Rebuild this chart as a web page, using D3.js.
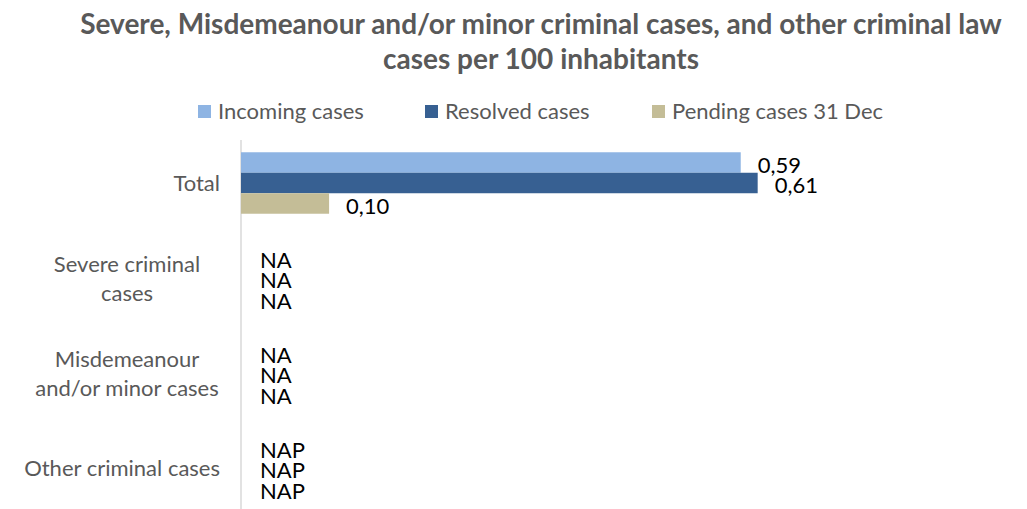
<!DOCTYPE html>
<html><head><meta charset="utf-8">
<script src="https://cdn.jsdelivr.net/npm/d3@7"></script>
<style>body{margin:0;background:#fff}svg{display:block}</style>
</head><body>
<svg id="c" width="1027" height="509"></svg>
<script>
const titleLines = ["Severe, Misdemeanour and/or minor criminal cases, and other criminal law", "cases per 100 inhabitants"];
const categories = [["Total"], ["Severe criminal", "cases"], ["Misdemeanour", "and/or minor cases"], ["Other criminal cases"]];
const seriesNames = ["Incoming cases", "Resolved cases", "Pending cases 31 Dec"];
const seriesColors = ["#8EB4E3", "#376092", "#C4BD97"];
const incoming = [0.59, null, null, null];
const resolved = [0.61, null, null, null];
const pending = [0.104, null, null, null];
const missingLabels = ["", "NA", "NA", "NAP"];

const series = [incoming, resolved, pending];
const svg = d3.select("#c");
const gray = "#595959";
const font = "Lato, 'Open Sans', sans-serif";

// title
svg.append("g").selectAll("text").data(titleLines).join("text")
  .attr("x", 541).attr("y", (d, i) => 34 + i * 35)
  .attr("text-anchor", "middle").attr("font-family", font).attr("font-weight", "bold")
  .attr("font-size", 28).attr("fill", gray).text(d => d);

// legend
const legendX = [198, 425, 652];
const lg = svg.append("g").selectAll("g").data(seriesNames).join("g")
  .attr("transform", (d, i) => `translate(${legendX[i]},111)`);
lg.append("rect").attr("x", 0).attr("y", -6).attr("width", 13).attr("height", 13)
  .attr("fill", (d, i) => seriesColors[i]);
lg.append("text").attr("x", 20).attr("y", 8).attr("font-family", font).attr("font-size", 22)
  .attr("fill", gray).text(d => d);

// scales
const x = d3.scaleLinear().domain([0, 0.7]).range([241, 241 + 0.7 * 847]);
const y = d3.scaleBand().domain(d3.range(categories.length)).range([135.5, 515.5])
  .paddingInner(0.353).paddingOuter(0.1765);
const ys = d3.scaleBand().domain(d3.range(series.length)).range([0, y.bandwidth()]);

// axis line
const yAxis = d3.axisLeft(y).tickSize(0).tickFormat("");
const ax = svg.append("g").attr("transform", `translate(${x(0)},0)`).call(yAxis);
ax.select(".domain").attr("stroke", "#D9D9D9").attr("stroke-width", 1.5)
  .attr("d", `M0,140V509`);

// category labels
categories.forEach((lines, i) => {
  const cy = y(i) + y.bandwidth() / 2;
  const t = svg.append("text").attr("font-family", font).attr("font-size", 22).attr("fill", gray)
    .attr("text-anchor", lines.length > 1 ? "middle" : "end");
  lines.forEach((ln, j) => {
    t.append("tspan").attr("x", lines.length > 1 ? 127 : 220)
      .attr("y", cy + 8 + (j - (lines.length - 1) / 2) * 29).text(ln);
  });
});

// bars + labels
const fmt = v => v.toFixed(2).replace(".", ",");
series.forEach((vals, s) => {
  const g = svg.append("g");
  g.selectAll("rect").data(vals.map((v, i) => ({v, i})).filter(d => d.v != null)).join("rect")
    .attr("x", x(0)).attr("y", d => y(d.i) + ys(s))
    .attr("width", d => x(d.v) - x(0)).attr("height", ys.bandwidth())
    .attr("fill", seriesColors[s]);
  g.selectAll("text").data(vals.map((v, i) => ({v, i}))).join("text")
    .attr("x", d => x(d.v == null ? 0 : d.v) + (d.v == null ? 19 : 17))
    .attr("y", d => y(d.i) + ys(s) + ys.bandwidth())
    .attr("font-family", font).attr("font-size", 22).attr("fill", "#000")
    .text(d => d.v == null ? missingLabels[d.i] : fmt(d.v));
});
</script>
</body></html>
